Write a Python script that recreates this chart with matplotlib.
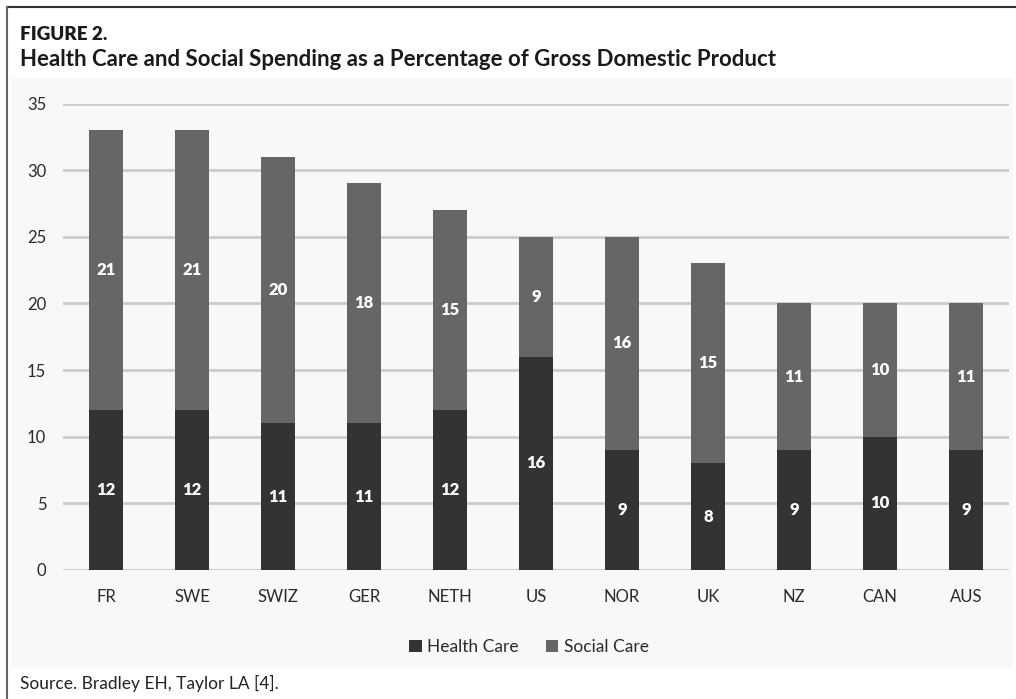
import matplotlib
matplotlib.use("Agg")
import matplotlib.pyplot as plt
from matplotlib.patches import Rectangle
from matplotlib.lines import Line2D

# data
countries = ["FR", "SWE", "SWIZ", "GER", "NETH", "US", "NOR", "UK", "NZ", "CAN", "AUS"]
health = [12, 12, 11, 11, 12, 16, 9, 8, 9, 10, 9]
social = [21, 21, 20, 18, 15, 9, 16, 15, 11, 10, 11]

W, H = 1016, 699
plt.rcParams['font.family'] = ['Lato', 'DejaVu Sans']

fig = plt.figure(figsize=(W / 100, H / 100), dpi=100)
fig.patch.set_facecolor("white")

# light grey chart panel
fig.add_artist(Rectangle((11 / W, 1 - 668 / H), (1013 - 11) / W, (668 - 78) / H,
                         transform=fig.transFigure, facecolor="#f8f8f8",
                         edgecolor="none", zorder=0))
# frame lines (top and left)
fig.add_artist(Line2D([7 / W, 1], [1 - 7 / H, 1 - 7 / H], transform=fig.transFigure,
                      color="#333333", lw=1.5))
fig.add_artist(Line2D([7 / W, 7 / W], [0, 1 - 7 / H], transform=fig.transFigure,
                      color="#666666", lw=1.5))

fig.text(20 / W, 1 - 35 / H, "FIGURE 2.", fontsize=13.5, fontweight="heavy",
         color="#1a1a1a", va="center", ha="left")
fig.text(20 / W, 1 - 59 / H,
         "Health Care and Social Spending as a Percentage of Gross Domestic Product",
         fontsize=16, fontweight="bold", color="#1a1a1a", va="center", ha="left")
fig.text(20 / W, 1 - 683 / H, "Source. Bradley EH, Taylor LA [4].",
         fontsize=12.5, color="#222222", va="center", ha="left")

ax = fig.add_axes([63 / W, 1 - 570 / H, 946 / W, (570 - 103.5) / H])
ax.set_facecolor("none")

x = range(len(countries))
b1 = ax.bar(x, health, width=0.4, color="#333333", label="Health Care", zorder=3)
b2 = ax.bar(x, social, width=0.4, bottom=health, color="#666666",
            label="Social Care", zorder=3)
ax.bar_label(b1, labels=[str(v) for v in health], label_type="center",
             color="white", fontsize=12, fontweight="heavy")
ax.bar_label(b2, labels=[str(v) for v in social], label_type="center",
             color="white", fontsize=12, fontweight="heavy")

ax.set_xlim(-0.5, len(countries) - 0.5)
ax.set_ylim(0, 35)
ax.set_yticks(range(0, 36, 5))
ax.set_xticks(list(x))
ax.set_xticklabels(countries)
ax.yaxis.grid(True, color="#cccccc", lw=2)
ax.set_axisbelow(True)
for s in ax.spines.values():
    s.set_visible(False)
ax.tick_params(length=0, labelsize=12, colors="#2a2a2a")
ax.tick_params(axis="y", pad=12)
ax.tick_params(axis="x", pad=14)

fig.legend(handles=[b1, b2], labels=["Health Care", "Social Care"],
           loc="center", bbox_to_anchor=(529 / W, 1 - 647 / H), ncol=2,
           frameon=False, fontsize=12.5, handlelength=0.7, handleheight=0.7,
           handletextpad=0.3, columnspacing=1.6, labelcolor="#2a2a2a")

fig.savefig("out.png", dpi=100)
